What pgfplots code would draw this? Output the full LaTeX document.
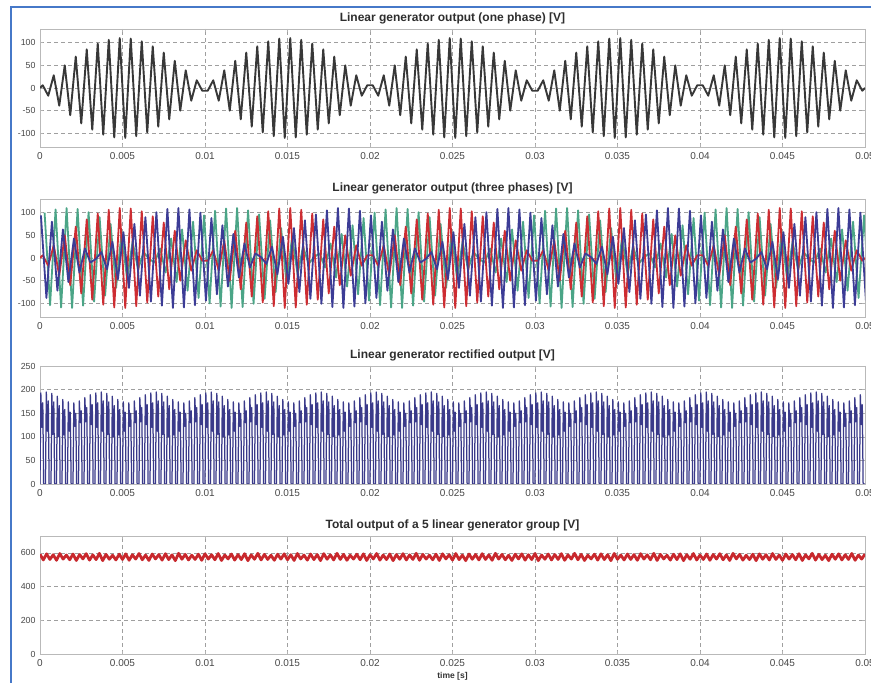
\documentclass[border=0pt]{standalone}
\usepackage{fontspec}
\setmainfont{Liberation Sans}
\usepackage{pgfplots}
\usepackage{pgfplotstable}
\pgfplotsset{compat=1.18}
\definecolor{phA}{RGB}{205,45,50}
\definecolor{phB}{RGB}{60,60,150}
\definecolor{phC}{RGB}{75,165,135}
\definecolor{rectc}{RGB}{58,58,138}
\definecolor{totc}{RGB}{200,40,45}
\definecolor{frameblue}{RGB}{70,120,200}

% phase A (time in ms)
\pgfplotstableread[row sep=\\]{
t y\\
0 0\\ 0.167 6\\ 0.5 -17\\ 0.833 28\\ 1.167 -39\\ 1.5 50\\ 1.833 -60\\ 2.167 69\\ 2.5 -78\\ 2.833 85\\ 3.167 -92\\ 3.5 98\\ 3.833 -103\\ 4.167 106\\ 4.5 -109\\ 4.833 110\\ 5.167 -110\\ 5.5 109\\ 5.833 -106\\ 6.167 103\\ 6.5 -98\\ 6.833 92\\ 7.167 -85\\ 7.5 78\\ 7.833 -69\\ 8.167 60\\ 8.5 -50\\ 8.833 39\\ 9.167 -28\\ 9.5 17\\ 9.833 -6\\
10.167 -6\\ 10.5 17\\ 10.833 -28\\ 11.167 39\\ 11.5 -50\\ 11.833 60\\ 12.167 -69\\ 12.5 78\\ 12.833 -85\\ 13.167 92\\ 13.5 -98\\ 13.833 103\\ 14.167 -106\\ 14.5 109\\ 14.833 -110\\ 15.167 110\\ 15.5 -109\\ 15.833 106\\ 16.167 -103\\ 16.5 98\\ 16.833 -92\\ 17.167 85\\ 17.5 -78\\ 17.833 69\\ 18.167 -60\\ 18.5 50\\ 18.833 -39\\ 19.167 28\\ 19.5 -17\\ 19.833 6\\
20.167 6\\ 20.5 -17\\ 20.833 28\\ 21.167 -39\\ 21.5 50\\ 21.833 -60\\ 22.167 69\\ 22.5 -78\\ 22.833 85\\ 23.167 -92\\ 23.5 98\\ 23.833 -103\\ 24.167 106\\ 24.5 -109\\ 24.833 110\\ 25.167 -110\\ 25.5 109\\ 25.833 -106\\ 26.167 103\\ 26.5 -98\\ 26.833 92\\ 27.167 -85\\ 27.5 78\\ 27.833 -69\\ 28.167 60\\ 28.5 -50\\ 28.833 39\\ 29.167 -28\\ 29.5 17\\ 29.833 -6\\
30.167 -6\\ 30.5 17\\ 30.833 -28\\ 31.167 39\\ 31.5 -50\\ 31.833 60\\ 32.167 -69\\ 32.5 78\\ 32.833 -85\\ 33.167 92\\ 33.5 -98\\ 33.833 103\\ 34.167 -106\\ 34.5 109\\ 34.833 -110\\ 35.167 110\\ 35.5 -109\\ 35.833 106\\ 36.167 -103\\ 36.5 98\\ 36.833 -92\\ 37.167 85\\ 37.5 -78\\ 37.833 69\\ 38.167 -60\\ 38.5 50\\ 38.833 -39\\ 39.167 28\\ 39.5 -17\\ 39.833 6\\
40.167 6\\ 40.5 -17\\ 40.833 28\\ 41.167 -39\\ 41.5 50\\ 41.833 -60\\ 42.167 69\\ 42.5 -78\\ 42.833 85\\ 43.167 -92\\ 43.5 98\\ 43.833 -103\\ 44.167 106\\ 44.5 -109\\ 44.833 110\\ 45.167 -110\\ 45.5 109\\ 45.833 -106\\ 46.167 103\\ 46.5 -98\\ 46.833 92\\ 47.167 -85\\ 47.5 78\\ 47.833 -69\\ 48.167 60\\ 48.5 -50\\ 48.833 39\\ 49.167 -28\\ 49.5 17\\ 49.833 -6\\ 50 0\\
}\phaseA

% phase B
\pgfplotstableread[row sep=\\]{
t y\\
0.056 94\\ 0.389 -88\\ 0.722 80\\ 1.056 -72\\ 1.389 63\\ 1.722 -53\\ 2.056 43\\ 2.389 -32\\ 2.722 21\\ 3.056 -10\\
3.389 -2\\ 3.722 13\\ 4.056 -25\\ 4.389 36\\ 4.722 -47\\ 5.056 57\\ 5.389 -66\\ 5.722 75\\ 6.056 -83\\ 6.389 90\\ 6.722 -96\\ 7.056 101\\ 7.389 -105\\ 7.722 108\\ 8.056 -110\\ 8.389 110\\ 8.722 -109\\ 9.056 107\\ 9.389 -104\\ 9.722 100\\ 10.056 -94\\ 10.389 88\\ 10.722 -80\\ 11.056 72\\ 11.389 -63\\ 11.722 53\\ 12.056 -43\\ 12.389 32\\ 12.722 -21\\ 13.056 10\\
13.389 2\\ 13.722 -13\\ 14.056 25\\ 14.389 -36\\ 14.722 47\\ 15.056 -57\\ 15.389 66\\ 15.722 -75\\ 16.056 83\\ 16.389 -90\\ 16.722 96\\ 17.056 -101\\ 17.389 105\\ 17.722 -108\\ 18.056 110\\ 18.389 -110\\ 18.722 109\\ 19.056 -107\\ 19.389 104\\ 19.722 -100\\ 20.056 94\\ 20.389 -88\\ 20.722 80\\ 21.056 -72\\ 21.389 63\\ 21.722 -53\\ 22.056 43\\ 22.389 -32\\ 22.722 21\\ 23.056 -10\\
23.389 -2\\ 23.722 13\\ 24.056 -25\\ 24.389 36\\ 24.722 -47\\ 25.056 57\\ 25.389 -66\\ 25.722 75\\ 26.056 -83\\ 26.389 90\\ 26.722 -96\\ 27.056 101\\ 27.389 -105\\ 27.722 108\\ 28.056 -110\\ 28.389 110\\ 28.722 -109\\ 29.056 107\\ 29.389 -104\\ 29.722 100\\ 30.056 -94\\ 30.389 88\\ 30.722 -80\\ 31.056 72\\ 31.389 -63\\ 31.722 53\\ 32.056 -43\\ 32.389 32\\ 32.722 -21\\ 33.056 10\\
33.389 2\\ 33.722 -13\\ 34.056 25\\ 34.389 -36\\ 34.722 47\\ 35.056 -57\\ 35.389 66\\ 35.722 -75\\ 36.056 83\\ 36.389 -90\\ 36.722 96\\ 37.056 -101\\ 37.389 105\\ 37.722 -108\\ 38.056 110\\ 38.389 -110\\ 38.722 109\\ 39.056 -107\\ 39.389 104\\ 39.722 -100\\ 40.056 94\\ 40.389 -88\\ 40.722 80\\ 41.056 -72\\ 41.389 63\\ 41.722 -53\\ 42.056 43\\ 42.389 -32\\ 42.722 21\\ 43.056 -10\\
43.389 -2\\ 43.722 13\\ 44.056 -25\\ 44.389 36\\ 44.722 -47\\ 45.056 57\\ 45.389 -66\\ 45.722 75\\ 46.056 -83\\ 46.389 90\\ 46.722 -96\\ 47.056 101\\ 47.389 -105\\ 47.722 108\\ 48.056 -110\\ 48.389 110\\ 48.722 -109\\ 49.056 107\\ 49.389 -104\\ 49.722 100\\ 50.056 -94\\
}\phaseB

% phase C
\pgfplotstableread[row sep=\\]{
t y\\
0.278 100\\ 0.611 -104\\ 0.944 107\\ 1.278 -109\\ 1.611 110\\ 1.944 -110\\ 2.278 108\\ 2.611 -105\\ 2.944 101\\ 3.278 -96\\ 3.611 90\\ 3.944 -83\\ 4.278 75\\ 4.611 -66\\ 4.944 57\\ 5.278 -47\\ 5.611 36\\ 5.944 -25\\ 6.278 13\\ 6.611 -2\\
6.944 -10\\ 7.278 21\\ 7.611 -32\\ 7.944 43\\ 8.278 -53\\ 8.611 63\\ 8.944 -72\\ 9.278 80\\ 9.611 -88\\ 9.944 94\\ 10.278 -100\\ 10.611 104\\ 10.944 -107\\ 11.278 109\\ 11.611 -110\\ 11.944 110\\ 12.278 -108\\ 12.611 105\\ 12.944 -101\\ 13.278 96\\ 13.611 -90\\ 13.944 83\\ 14.278 -75\\ 14.611 66\\ 14.944 -57\\ 15.278 47\\ 15.611 -36\\ 15.944 25\\ 16.278 -13\\ 16.611 2\\
16.944 10\\ 17.278 -21\\ 17.611 32\\ 17.944 -43\\ 18.278 53\\ 18.611 -63\\ 18.944 72\\ 19.278 -80\\ 19.611 88\\ 19.944 -94\\ 20.278 100\\ 20.611 -104\\ 20.944 107\\ 21.278 -109\\ 21.611 110\\ 21.944 -110\\ 22.278 108\\ 22.611 -105\\ 22.944 101\\ 23.278 -96\\ 23.611 90\\ 23.944 -83\\ 24.278 75\\ 24.611 -66\\ 24.944 57\\ 25.278 -47\\ 25.611 36\\ 25.944 -25\\ 26.278 13\\ 26.611 -2\\
26.944 -10\\ 27.278 21\\ 27.611 -32\\ 27.944 43\\ 28.278 -53\\ 28.611 63\\ 28.944 -72\\ 29.278 80\\ 29.611 -88\\ 29.944 94\\ 30.278 -100\\ 30.611 104\\ 30.944 -107\\ 31.278 109\\ 31.611 -110\\ 31.944 110\\ 32.278 -108\\ 32.611 105\\ 32.944 -101\\ 33.278 96\\ 33.611 -90\\ 33.944 83\\ 34.278 -75\\ 34.611 66\\ 34.944 -57\\ 35.278 47\\ 35.611 -36\\ 35.944 25\\ 36.278 -13\\ 36.611 2\\
36.944 10\\ 37.278 -21\\ 37.611 32\\ 37.944 -43\\ 38.278 53\\ 38.611 -63\\ 38.944 72\\ 39.278 -80\\ 39.611 88\\ 39.944 -94\\ 40.278 100\\ 40.611 -104\\ 40.944 107\\ 41.278 -109\\ 41.611 110\\ 41.944 -110\\ 42.278 108\\ 42.611 -105\\ 42.944 101\\ 43.278 -96\\ 43.611 90\\ 43.944 -83\\ 44.278 75\\ 44.611 -66\\ 44.944 57\\ 45.278 -47\\ 45.611 36\\ 45.944 -25\\ 46.278 13\\ 46.611 -2\\
46.944 -10\\ 47.278 21\\ 47.611 -32\\ 47.944 43\\ 48.278 -53\\ 48.611 63\\ 48.944 -72\\ 49.278 80\\ 49.611 -88\\ 49.944 94\\ 50.278 -100\\
}\phaseC

% rectified output
\pgfplotstableread[row sep=\\]{
t y\\
0 0\\ 0.05 193\\ 0.11 120\\ 0.17 172\\ 0.22 0\\
0.333 0\\ 0.383 195\\ 0.443 112\\ 0.503 176\\ 0.553 0\\
0.667 0\\ 0.717 192\\ 0.777 105\\ 0.837 174\\ 0.887 0\\
1 0\\ 1.05 186\\ 1.11 100\\ 1.17 166\\ 1.22 0\\
1.333 0\\ 1.383 179\\ 1.443 104\\ 1.503 158\\ 1.553 0\\
1.667 0\\ 1.717 174\\ 1.777 112\\ 1.837 152\\ 1.887 0\\
2 0\\ 2.05 172\\ 2.11 122\\ 2.17 150\\ 2.22 0\\
2.333 0\\ 2.383 176\\ 2.443 130\\ 2.503 155\\ 2.553 0\\
2.667 0\\ 2.717 183\\ 2.777 132\\ 2.837 162\\ 2.887 0\\
3 0\\ 3.05 189\\ 3.11 126\\ 3.17 168\\ 3.22 0\\
3.333 0\\ 3.383 193\\ 3.443 120\\ 3.503 172\\ 3.553 0\\
3.667 0\\ 3.717 195\\ 3.777 112\\ 3.837 176\\ 3.887 0\\
4 0\\ 4.05 192\\ 4.11 105\\ 4.17 174\\ 4.22 0\\
4.333 0\\ 4.383 186\\ 4.443 100\\ 4.503 166\\ 4.553 0\\
4.667 0\\ 4.717 179\\ 4.777 104\\ 4.837 158\\ 4.887 0\\
5 0\\ 5.05 174\\ 5.11 112\\ 5.17 152\\ 5.22 0\\
5.333 0\\ 5.383 172\\ 5.443 122\\ 5.503 150\\ 5.553 0\\
5.667 0\\ 5.717 176\\ 5.777 130\\ 5.837 155\\ 5.887 0\\
6 0\\ 6.05 183\\ 6.11 132\\ 6.17 162\\ 6.22 0\\
6.333 0\\ 6.383 189\\ 6.443 126\\ 6.503 168\\ 6.553 0\\
6.667 0\\ 6.717 193\\ 6.777 120\\ 6.837 172\\ 6.887 0\\
7 0\\ 7.05 195\\ 7.11 112\\ 7.17 176\\ 7.22 0\\
7.333 0\\ 7.383 192\\ 7.443 105\\ 7.503 174\\ 7.553 0\\
7.667 0\\ 7.717 186\\ 7.777 100\\ 7.837 166\\ 7.887 0\\
8 0\\ 8.05 179\\ 8.11 104\\ 8.17 158\\ 8.22 0\\
8.333 0\\ 8.383 174\\ 8.443 112\\ 8.503 152\\ 8.553 0\\
8.667 0\\ 8.717 172\\ 8.777 122\\ 8.837 150\\ 8.887 0\\
9 0\\ 9.05 176\\ 9.11 130\\ 9.17 155\\ 9.22 0\\
9.333 0\\ 9.383 183\\ 9.443 132\\ 9.503 162\\ 9.553 0\\
9.667 0\\ 9.717 189\\ 9.777 126\\ 9.837 168\\ 9.887 0\\
10 0\\ 10.05 193\\ 10.11 120\\ 10.17 172\\ 10.22 0\\
10.333 0\\ 10.383 195\\ 10.443 112\\ 10.503 176\\ 10.553 0\\
10.667 0\\ 10.717 192\\ 10.777 105\\ 10.837 174\\ 10.887 0\\
11 0\\ 11.05 186\\ 11.11 100\\ 11.17 166\\ 11.22 0\\
11.333 0\\ 11.383 179\\ 11.443 104\\ 11.503 158\\ 11.553 0\\
11.667 0\\ 11.717 174\\ 11.777 112\\ 11.837 152\\ 11.887 0\\
12 0\\ 12.05 172\\ 12.11 122\\ 12.17 150\\ 12.22 0\\
12.333 0\\ 12.383 176\\ 12.443 130\\ 12.503 155\\ 12.553 0\\
12.667 0\\ 12.717 183\\ 12.777 132\\ 12.837 162\\ 12.887 0\\
13 0\\ 13.05 189\\ 13.11 126\\ 13.17 168\\ 13.22 0\\
13.333 0\\ 13.383 193\\ 13.443 120\\ 13.503 172\\ 13.553 0\\
13.667 0\\ 13.717 195\\ 13.777 112\\ 13.837 176\\ 13.887 0\\
14 0\\ 14.05 192\\ 14.11 105\\ 14.17 174\\ 14.22 0\\
14.333 0\\ 14.383 186\\ 14.443 100\\ 14.503 166\\ 14.553 0\\
14.667 0\\ 14.717 179\\ 14.777 104\\ 14.837 158\\ 14.887 0\\
15 0\\ 15.05 174\\ 15.11 112\\ 15.17 152\\ 15.22 0\\
15.333 0\\ 15.383 172\\ 15.443 122\\ 15.503 150\\ 15.553 0\\
15.667 0\\ 15.717 176\\ 15.777 130\\ 15.837 155\\ 15.887 0\\
16 0\\ 16.05 183\\ 16.11 132\\ 16.17 162\\ 16.22 0\\
16.333 0\\ 16.383 189\\ 16.443 126\\ 16.503 168\\ 16.553 0\\
16.667 0\\ 16.717 193\\ 16.777 120\\ 16.837 172\\ 16.887 0\\
17 0\\ 17.05 195\\ 17.11 112\\ 17.17 176\\ 17.22 0\\
17.333 0\\ 17.383 192\\ 17.443 105\\ 17.503 174\\ 17.553 0\\
17.667 0\\ 17.717 186\\ 17.777 100\\ 17.837 166\\ 17.887 0\\
18 0\\ 18.05 179\\ 18.11 104\\ 18.17 158\\ 18.22 0\\
18.333 0\\ 18.383 174\\ 18.443 112\\ 18.503 152\\ 18.553 0\\
18.667 0\\ 18.717 172\\ 18.777 122\\ 18.837 150\\ 18.887 0\\
19 0\\ 19.05 176\\ 19.11 130\\ 19.17 155\\ 19.22 0\\
19.333 0\\ 19.383 183\\ 19.443 132\\ 19.503 162\\ 19.553 0\\
19.667 0\\ 19.717 189\\ 19.777 126\\ 19.837 168\\ 19.887 0\\
20 0\\ 20.05 193\\ 20.11 120\\ 20.17 172\\ 20.22 0\\
20.333 0\\ 20.383 195\\ 20.443 112\\ 20.503 176\\ 20.553 0\\
20.667 0\\ 20.717 192\\ 20.777 105\\ 20.837 174\\ 20.887 0\\
21 0\\ 21.05 186\\ 21.11 100\\ 21.17 166\\ 21.22 0\\
21.333 0\\ 21.383 179\\ 21.443 104\\ 21.503 158\\ 21.553 0\\
21.667 0\\ 21.717 174\\ 21.777 112\\ 21.837 152\\ 21.887 0\\
22 0\\ 22.05 172\\ 22.11 122\\ 22.17 150\\ 22.22 0\\
22.333 0\\ 22.383 176\\ 22.443 130\\ 22.503 155\\ 22.553 0\\
22.667 0\\ 22.717 183\\ 22.777 132\\ 22.837 162\\ 22.887 0\\
23 0\\ 23.05 189\\ 23.11 126\\ 23.17 168\\ 23.22 0\\
23.333 0\\ 23.383 193\\ 23.443 120\\ 23.503 172\\ 23.553 0\\
23.667 0\\ 23.717 195\\ 23.777 112\\ 23.837 176\\ 23.887 0\\
24 0\\ 24.05 192\\ 24.11 105\\ 24.17 174\\ 24.22 0\\
24.333 0\\ 24.383 186\\ 24.443 100\\ 24.503 166\\ 24.553 0\\
24.667 0\\ 24.717 179\\ 24.777 104\\ 24.837 158\\ 24.887 0\\
25 0\\ 25.05 174\\ 25.11 112\\ 25.17 152\\ 25.22 0\\
25.333 0\\ 25.383 172\\ 25.443 122\\ 25.503 150\\ 25.553 0\\
25.667 0\\ 25.717 176\\ 25.777 130\\ 25.837 155\\ 25.887 0\\
26 0\\ 26.05 183\\ 26.11 132\\ 26.17 162\\ 26.22 0\\
26.333 0\\ 26.383 189\\ 26.443 126\\ 26.503 168\\ 26.553 0\\
26.667 0\\ 26.717 193\\ 26.777 120\\ 26.837 172\\ 26.887 0\\
27 0\\ 27.05 195\\ 27.11 112\\ 27.17 176\\ 27.22 0\\
27.333 0\\ 27.383 192\\ 27.443 105\\ 27.503 174\\ 27.553 0\\
27.667 0\\ 27.717 186\\ 27.777 100\\ 27.837 166\\ 27.887 0\\
28 0\\ 28.05 179\\ 28.11 104\\ 28.17 158\\ 28.22 0\\
28.333 0\\ 28.383 174\\ 28.443 112\\ 28.503 152\\ 28.553 0\\
28.667 0\\ 28.717 172\\ 28.777 122\\ 28.837 150\\ 28.887 0\\
29 0\\ 29.05 176\\ 29.11 130\\ 29.17 155\\ 29.22 0\\
29.333 0\\ 29.383 183\\ 29.443 132\\ 29.503 162\\ 29.553 0\\
29.667 0\\ 29.717 189\\ 29.777 126\\ 29.837 168\\ 29.887 0\\
30 0\\ 30.05 193\\ 30.11 120\\ 30.17 172\\ 30.22 0\\
30.333 0\\ 30.383 195\\ 30.443 112\\ 30.503 176\\ 30.553 0\\
30.667 0\\ 30.717 192\\ 30.777 105\\ 30.837 174\\ 30.887 0\\
31 0\\ 31.05 186\\ 31.11 100\\ 31.17 166\\ 31.22 0\\
31.333 0\\ 31.383 179\\ 31.443 104\\ 31.503 158\\ 31.553 0\\
31.667 0\\ 31.717 174\\ 31.777 112\\ 31.837 152\\ 31.887 0\\
32 0\\ 32.05 172\\ 32.11 122\\ 32.17 150\\ 32.22 0\\
32.333 0\\ 32.383 176\\ 32.443 130\\ 32.503 155\\ 32.553 0\\
32.667 0\\ 32.717 183\\ 32.777 132\\ 32.837 162\\ 32.887 0\\
33 0\\ 33.05 189\\ 33.11 126\\ 33.17 168\\ 33.22 0\\
33.333 0\\ 33.383 193\\ 33.443 120\\ 33.503 172\\ 33.553 0\\
33.667 0\\ 33.717 195\\ 33.777 112\\ 33.837 176\\ 33.887 0\\
34 0\\ 34.05 192\\ 34.11 105\\ 34.17 174\\ 34.22 0\\
34.333 0\\ 34.383 186\\ 34.443 100\\ 34.503 166\\ 34.553 0\\
34.667 0\\ 34.717 179\\ 34.777 104\\ 34.837 158\\ 34.887 0\\
35 0\\ 35.05 174\\ 35.11 112\\ 35.17 152\\ 35.22 0\\
35.333 0\\ 35.383 172\\ 35.443 122\\ 35.503 150\\ 35.553 0\\
35.667 0\\ 35.717 176\\ 35.777 130\\ 35.837 155\\ 35.887 0\\
36 0\\ 36.05 183\\ 36.11 132\\ 36.17 162\\ 36.22 0\\
36.333 0\\ 36.383 189\\ 36.443 126\\ 36.503 168\\ 36.553 0\\
36.667 0\\ 36.717 193\\ 36.777 120\\ 36.837 172\\ 36.887 0\\
37 0\\ 37.05 195\\ 37.11 112\\ 37.17 176\\ 37.22 0\\
37.333 0\\ 37.383 192\\ 37.443 105\\ 37.503 174\\ 37.553 0\\
37.667 0\\ 37.717 186\\ 37.777 100\\ 37.837 166\\ 37.887 0\\
38 0\\ 38.05 179\\ 38.11 104\\ 38.17 158\\ 38.22 0\\
38.333 0\\ 38.383 174\\ 38.443 112\\ 38.503 152\\ 38.553 0\\
38.667 0\\ 38.717 172\\ 38.777 122\\ 38.837 150\\ 38.887 0\\
39 0\\ 39.05 176\\ 39.11 130\\ 39.17 155\\ 39.22 0\\
39.333 0\\ 39.383 183\\ 39.443 132\\ 39.503 162\\ 39.553 0\\
39.667 0\\ 39.717 189\\ 39.777 126\\ 39.837 168\\ 39.887 0\\
40 0\\ 40.05 193\\ 40.11 120\\ 40.17 172\\ 40.22 0\\
40.333 0\\ 40.383 195\\ 40.443 112\\ 40.503 176\\ 40.553 0\\
40.667 0\\ 40.717 192\\ 40.777 105\\ 40.837 174\\ 40.887 0\\
41 0\\ 41.05 186\\ 41.11 100\\ 41.17 166\\ 41.22 0\\
41.333 0\\ 41.383 179\\ 41.443 104\\ 41.503 158\\ 41.553 0\\
41.667 0\\ 41.717 174\\ 41.777 112\\ 41.837 152\\ 41.887 0\\
42 0\\ 42.05 172\\ 42.11 122\\ 42.17 150\\ 42.22 0\\
42.333 0\\ 42.383 176\\ 42.443 130\\ 42.503 155\\ 42.553 0\\
42.667 0\\ 42.717 183\\ 42.777 132\\ 42.837 162\\ 42.887 0\\
43 0\\ 43.05 189\\ 43.11 126\\ 43.17 168\\ 43.22 0\\
43.333 0\\ 43.383 193\\ 43.443 120\\ 43.503 172\\ 43.553 0\\
43.667 0\\ 43.717 195\\ 43.777 112\\ 43.837 176\\ 43.887 0\\
44 0\\ 44.05 192\\ 44.11 105\\ 44.17 174\\ 44.22 0\\
44.333 0\\ 44.383 186\\ 44.443 100\\ 44.503 166\\ 44.553 0\\
44.667 0\\ 44.717 179\\ 44.777 104\\ 44.837 158\\ 44.887 0\\
45 0\\ 45.05 174\\ 45.11 112\\ 45.17 152\\ 45.22 0\\
45.333 0\\ 45.383 172\\ 45.443 122\\ 45.503 150\\ 45.553 0\\
45.667 0\\ 45.717 176\\ 45.777 130\\ 45.837 155\\ 45.887 0\\
46 0\\ 46.05 183\\ 46.11 132\\ 46.17 162\\ 46.22 0\\
46.333 0\\ 46.383 189\\ 46.443 126\\ 46.503 168\\ 46.553 0\\
46.667 0\\ 46.717 193\\ 46.777 120\\ 46.837 172\\ 46.887 0\\
47 0\\ 47.05 195\\ 47.11 112\\ 47.17 176\\ 47.22 0\\
47.333 0\\ 47.383 192\\ 47.443 105\\ 47.503 174\\ 47.553 0\\
47.667 0\\ 47.717 186\\ 47.777 100\\ 47.837 166\\ 47.887 0\\
48 0\\ 48.05 179\\ 48.11 104\\ 48.17 158\\ 48.22 0\\
48.333 0\\ 48.383 174\\ 48.443 112\\ 48.503 152\\ 48.553 0\\
48.667 0\\ 48.717 172\\ 48.777 122\\ 48.837 150\\ 48.887 0\\
49 0\\ 49.05 176\\ 49.11 130\\ 49.17 155\\ 49.22 0\\
49.333 0\\ 49.383 183\\ 49.443 132\\ 49.503 162\\ 49.553 0\\
49.667 0\\ 49.717 189\\ 49.777 126\\ 49.837 168\\ 49.887 0\\
50 0\\
}\rectout

% total output of the group
\pgfplotstableread[row sep=\\]{
t y\\
0 592\\ 0.2 558\\ 0.4 594\\ 0.6 561\\ 0.8 589\\ 1 556\\ 1.2 596\\ 1.4 563\\ 1.6 587\\ 1.8 559\\
2 593\\ 2.2 555\\ 2.4 590\\ 2.6 564\\ 2.8 595\\ 3 557\\ 3.2 588\\ 3.4 560\\ 3.6 597\\ 3.8 554\\
4 591\\ 4.2 562\\ 4.4 586\\ 4.6 558\\ 4.8 592\\ 5 561\\ 5.2 594\\ 5.4 556\\ 5.6 589\\ 5.8 563\\
6 596\\ 6.2 559\\ 6.4 587\\ 6.6 555\\ 6.8 593\\ 7 564\\ 7.2 590\\ 7.4 557\\ 7.6 595\\ 7.8 560\\
8 588\\ 8.2 554\\ 8.4 597\\ 8.6 562\\ 8.8 591\\ 9 558\\ 9.2 586\\ 9.4 561\\ 9.6 592\\ 9.8 556\\
10 594\\ 10.2 563\\ 10.4 589\\ 10.6 559\\ 10.8 596\\ 11 555\\ 11.2 587\\ 11.4 564\\ 11.6 593\\ 11.8 557\\
12 590\\ 12.2 560\\ 12.4 595\\ 12.6 554\\ 12.8 588\\ 13 562\\ 13.2 597\\ 13.4 558\\ 13.6 591\\ 13.8 561\\
14 586\\ 14.2 556\\ 14.4 592\\ 14.6 563\\ 14.8 594\\ 15 559\\ 15.2 589\\ 15.4 555\\ 15.6 596\\ 15.8 564\\
16 587\\ 16.2 557\\ 16.4 593\\ 16.6 560\\ 16.8 590\\ 17 554\\ 17.2 595\\ 17.4 562\\ 17.6 588\\ 17.8 558\\
18 597\\ 18.2 561\\ 18.4 591\\ 18.6 556\\ 18.8 586\\ 19 563\\ 19.2 592\\ 19.4 559\\ 19.6 594\\ 19.8 555\\
20 589\\ 20.2 564\\ 20.4 596\\ 20.6 557\\ 20.8 587\\ 21 560\\ 21.2 593\\ 21.4 554\\ 21.6 590\\ 21.8 562\\
22 595\\ 22.2 558\\ 22.4 588\\ 22.6 561\\ 22.8 597\\ 23 556\\ 23.2 591\\ 23.4 563\\ 23.6 586\\ 23.8 559\\
24 592\\ 24.2 555\\ 24.4 594\\ 24.6 564\\ 24.8 589\\ 25 557\\ 25.2 596\\ 25.4 560\\ 25.6 587\\ 25.8 554\\
26 593\\ 26.2 562\\ 26.4 590\\ 26.6 558\\ 26.8 595\\ 27 561\\ 27.2 588\\ 27.4 556\\ 27.6 597\\ 27.8 563\\
28 591\\ 28.2 559\\ 28.4 586\\ 28.6 555\\ 28.8 592\\ 29 564\\ 29.2 594\\ 29.4 557\\ 29.6 589\\ 29.8 560\\
30 596\\ 30.2 554\\ 30.4 587\\ 30.6 562\\ 30.8 593\\ 31 558\\ 31.2 590\\ 31.4 561\\ 31.6 595\\ 31.8 556\\
32 588\\ 32.2 563\\ 32.4 597\\ 32.6 559\\ 32.8 591\\ 33 555\\ 33.2 586\\ 33.4 564\\ 33.6 592\\ 33.8 557\\
34 594\\ 34.2 560\\ 34.4 589\\ 34.6 554\\ 34.8 596\\ 35 562\\ 35.2 587\\ 35.4 558\\ 35.6 593\\ 35.8 561\\
36 590\\ 36.2 556\\ 36.4 595\\ 36.6 563\\ 36.8 588\\ 37 559\\ 37.2 597\\ 37.4 555\\ 37.6 591\\ 37.8 564\\
38 586\\ 38.2 557\\ 38.4 592\\ 38.6 560\\ 38.8 594\\ 39 554\\ 39.2 589\\ 39.4 562\\ 39.6 596\\ 39.8 558\\
40 587\\ 40.2 561\\ 40.4 593\\ 40.6 556\\ 40.8 590\\ 41 563\\ 41.2 595\\ 41.4 559\\ 41.6 588\\ 41.8 555\\
42 597\\ 42.2 564\\ 42.4 591\\ 42.6 557\\ 42.8 586\\ 43 560\\ 43.2 592\\ 43.4 554\\ 43.6 594\\ 43.8 562\\
44 589\\ 44.2 558\\ 44.4 596\\ 44.6 561\\ 44.8 587\\ 45 556\\ 45.2 593\\ 45.4 563\\ 45.6 590\\ 45.8 559\\
46 595\\ 46.2 555\\ 46.4 588\\ 46.6 564\\ 46.8 597\\ 47 557\\ 47.2 591\\ 47.4 560\\ 47.6 586\\ 47.8 554\\
48 592\\ 48.2 562\\ 48.4 594\\ 48.6 558\\ 48.8 589\\ 49 561\\ 49.2 596\\ 49.4 556\\ 49.6 587\\ 49.8 563\\
50 593\\
}\totout

\pgfplotsset{
  panel/.style={
    scale only axis, width=825pt, height=118pt,
    anchor=south west,
    xmin=0, xmax=50, xtick={0,5,...,50},
    xticklabels={0,0.005,0.01,0.015,0.02,0.025,0.03,0.035,0.04,0.045,0.05},
    grid=major,
    major grid style={gray!75, dash pattern=on 3.5pt off 3.5pt, line width=0.5pt},
    axis line style={gray!55},
    tick style={gray!60, line width=0.4pt},
    major tick length=3pt, tick align=inside,
    xticklabel style={font=\fontsize{10}{11}\selectfont, text=black!72, yshift=-2pt},
    yticklabel style={font=\fontsize{8.8}{10}\selectfont, text=black!72, xshift=-1pt},
    /pgf/number format/assume math mode=true,
    title style={font=\bfseries\fontsize{12}{14}\selectfont, text=black!82, yshift=-5pt},
    every axis plot/.append style={line join=round},
  },
}

\begin{document}
\begin{tikzpicture}
\useasboundingbox (0,0) rectangle (871pt,683pt);
\fill[white] (0,0) rectangle (871pt,683pt);
\draw[frameblue, line width=2pt] (11pt,0) -- (11pt,676pt) -- (871pt,676pt);

\begin{axis}[panel, at={(40pt,536pt)},
  ymin=-130, ymax=130, ytick={-100,-50,0,50,100},
  title={Linear generator output (one phase) [V]}]
  \addplot[black!78, line width=1.9pt] table[x=t, y=y] {\phaseA};
\end{axis}

\begin{axis}[panel, at={(40pt,366pt)},
  ymin=-130, ymax=130, ytick={-100,-50,0,50,100},
  title={Linear generator output (three phases) [V]}]
  \addplot[phC, line width=1.8pt] table[x=t, y=y] {\phaseC};
  \addplot[phA, line width=1.8pt] table[x=t, y=y] {\phaseA};
  \addplot[phB, line width=1.8pt] table[x=t, y=y] {\phaseB};
\end{axis}

\begin{axis}[panel, at={(40pt,199pt)},
  ymin=0, ymax=250, ytick={0,50,100,150,200,250},
  title={Linear generator rectified output [V]}]
  \addplot[rectc, line width=1.25pt] table[x=t, y=y] {\rectout};
\end{axis}

\begin{axis}[panel, at={(40pt,29pt)},
  ymin=0, ymax=700, ytick={0,200,400,600},
  title={Total output of a 5 linear generator group [V]},
  xlabel={time [s]},
  xlabel style={font=\bfseries\fontsize{8.5}{10}\selectfont, text=black!80, yshift=1pt}]
  \addplot[totc, line width=2.8pt] table[x=t, y=y] {\totout};
\end{axis}
\end{tikzpicture}
\end{document}
